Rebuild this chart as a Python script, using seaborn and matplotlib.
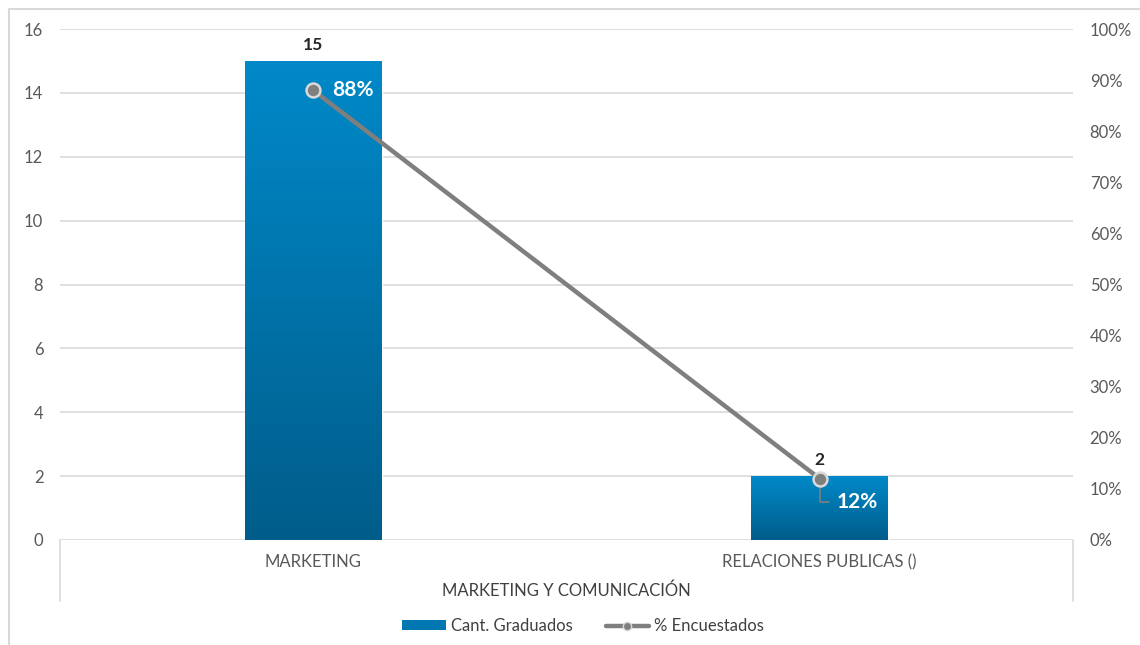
import numpy as np
import pandas as pd
import matplotlib
matplotlib.use("Agg")
import matplotlib.pyplot as plt
import seaborn as sns
from matplotlib.colors import LinearSegmentedColormap
from matplotlib.lines import Line2D
from matplotlib.patches import Patch

# Data
categories = ["MARKETING", "RELACIONES PUBLICAS ()"]
graduados = [15, 2]
encuestados_pct = [0.88, 0.12]
group_label = "MARKETING Y COMUNICACIÓN"
left_ticks = [0, 2, 4, 6, 8, 10, 12, 14, 16]
right_ticks = [0.0, 0.1, 0.2, 0.3, 0.4, 0.5, 0.6, 0.7, 0.8, 0.9, 1.0]
series_names = ["Cant. Graduados", "% Encuestados"]

sns.set_theme(style="white")
plt.rcParams["font.family"] = ["Lato", "DejaVu Sans"]

TICK_C = "#595959"
GRID_C = "#D9D9D9"
LINE_C = "#7F7F7F"
BAR_TOP = "#0089C9"
BAR_BOT = "#005D8A"

fig = plt.figure(figsize=(11.4, 6.45), dpi=100)
ax = fig.add_axes([60 / 1140, 1 - 540 / 645, (1073 - 60) / 1140, (540 - 29) / 645])

df = pd.DataFrame({"cat": categories, "val": graduados})
sns.barplot(data=df, x="cat", y="val", ax=ax, color=BAR_BOT, width=0.27,
            saturation=1, zorder=2)

# Vertical gradient fill clipped to each bar
cmap = LinearSegmentedColormap.from_list("bar", [BAR_BOT, BAR_TOP])
grad = np.linspace(0, 1, 256).reshape(-1, 1)
for p in ax.patches:
    x0, y0 = p.get_x(), p.get_y()
    w, h = p.get_width(), p.get_height()
    im = ax.imshow(grad, cmap=cmap, origin="lower", aspect="auto",
                   extent=[x0, x0 + w, y0, y0 + h], zorder=2.5)
    im.set_clip_path(p)

ax.set_xlim(-0.5, 1.5)
ax.set_ylim(0, 16)
ax.set_yticks(left_ticks)
ax.yaxis.grid(True, color=GRID_C, linewidth=1.2, zorder=0)
ax.set_axisbelow(True)
for s in ax.spines.values():
    s.set_visible(False)
ax.set_xlabel("")
ax.set_ylabel("")
ax.tick_params(axis="y", length=0, pad=12, labelsize=12, labelcolor=TICK_C)
ax.tick_params(axis="x", length=0, pad=10, labelsize=12, labelcolor=TICK_C)

# Bar value labels
for i, v in enumerate(graduados):
    ax.annotate(str(v), xy=(i, v), xytext=(0, 8), textcoords="offset pixels",
                ha="center", va="bottom", fontsize=12.5, fontweight="bold",
                color="#262626", zorder=6)

# Secondary axis with the percentage line
ax2 = ax.twinx()
sns.lineplot(x=[0, 1], y=encuestados_pct, ax=ax2, color=LINE_C, linewidth=3.2,
             marker="o", markersize=10, markerfacecolor=LINE_C,
             markeredgecolor="#D9D9D9", markeredgewidth=1.8, zorder=5)
ax2.set_ylim(0, 1)
ax2.set_yticks(right_ticks)
ax2.set_yticklabels([f"{int(round(t * 100))}%" for t in right_ticks])
ax2.tick_params(axis="y", length=0, pad=12, labelsize=12, labelcolor=TICK_C)
for s in ax2.spines.values():
    s.set_visible(False)
ax2.set_ylabel("")
ax2.set_xlim(-0.5, 1.5)

# Percentage labels
ax2.text(0 + 19 / 507.5, encuestados_pct[0], f"{encuestados_pct[0]:.0%}",
         ha="left", va="center", color="white", fontsize=15,
         fontweight="bold", zorder=7)
lead_y = 0.074
ax2.plot([1, 1, 1 + 9 / 507.5], [encuestados_pct[1] - 0.018, lead_y, lead_y],
         color=LINE_C, linewidth=1.2, zorder=4)
ax2.text(1 + 17 / 507.5, lead_y, f"{encuestados_pct[1]:.0%}",
         ha="left", va="center", color="white", fontsize=15,
         fontweight="bold", zorder=7)

# Category group bracket and label
bracket_h = 61 / 511
for xa in (0, 1):
    ax.plot([xa, xa], [0, -bracket_h], transform=ax.transAxes, color=GRID_C,
            linewidth=1.2, clip_on=False)
ax.text(0.5, -(591 - 540) / 511, group_label, transform=ax.transAxes,
        ha="center", va="center", fontsize=12, color="#404040")

# Outer chart frame
fig.add_artist(Line2D([9 / 1140, 9 / 1140], [0, 1 - 9 / 645],
                      transform=fig.transFigure, color=GRID_C, linewidth=1.5))
fig.add_artist(Line2D([9 / 1140, 1], [1 - 9 / 645, 1 - 9 / 645],
                      transform=fig.transFigure, color=GRID_C, linewidth=1.5))

# Legend
handles = [
    Patch(facecolor="#0077B0", edgecolor="none"),
    Line2D([0], [0], color=LINE_C, linewidth=3.2, marker="o", markersize=6,
           markerfacecolor=LINE_C, markeredgecolor="#D9D9D9"),
]
fig.legend(handles, series_names, loc="center", bbox_to_anchor=(583 / 1140, 1 - 626 / 645),
           ncol=2, frameon=False, fontsize=12, labelcolor="#404040",
           handlelength=2.6, handleheight=0.55, handletextpad=0.3, columnspacing=2.0)

fig.savefig("out.png", dpi=100, facecolor="white")
